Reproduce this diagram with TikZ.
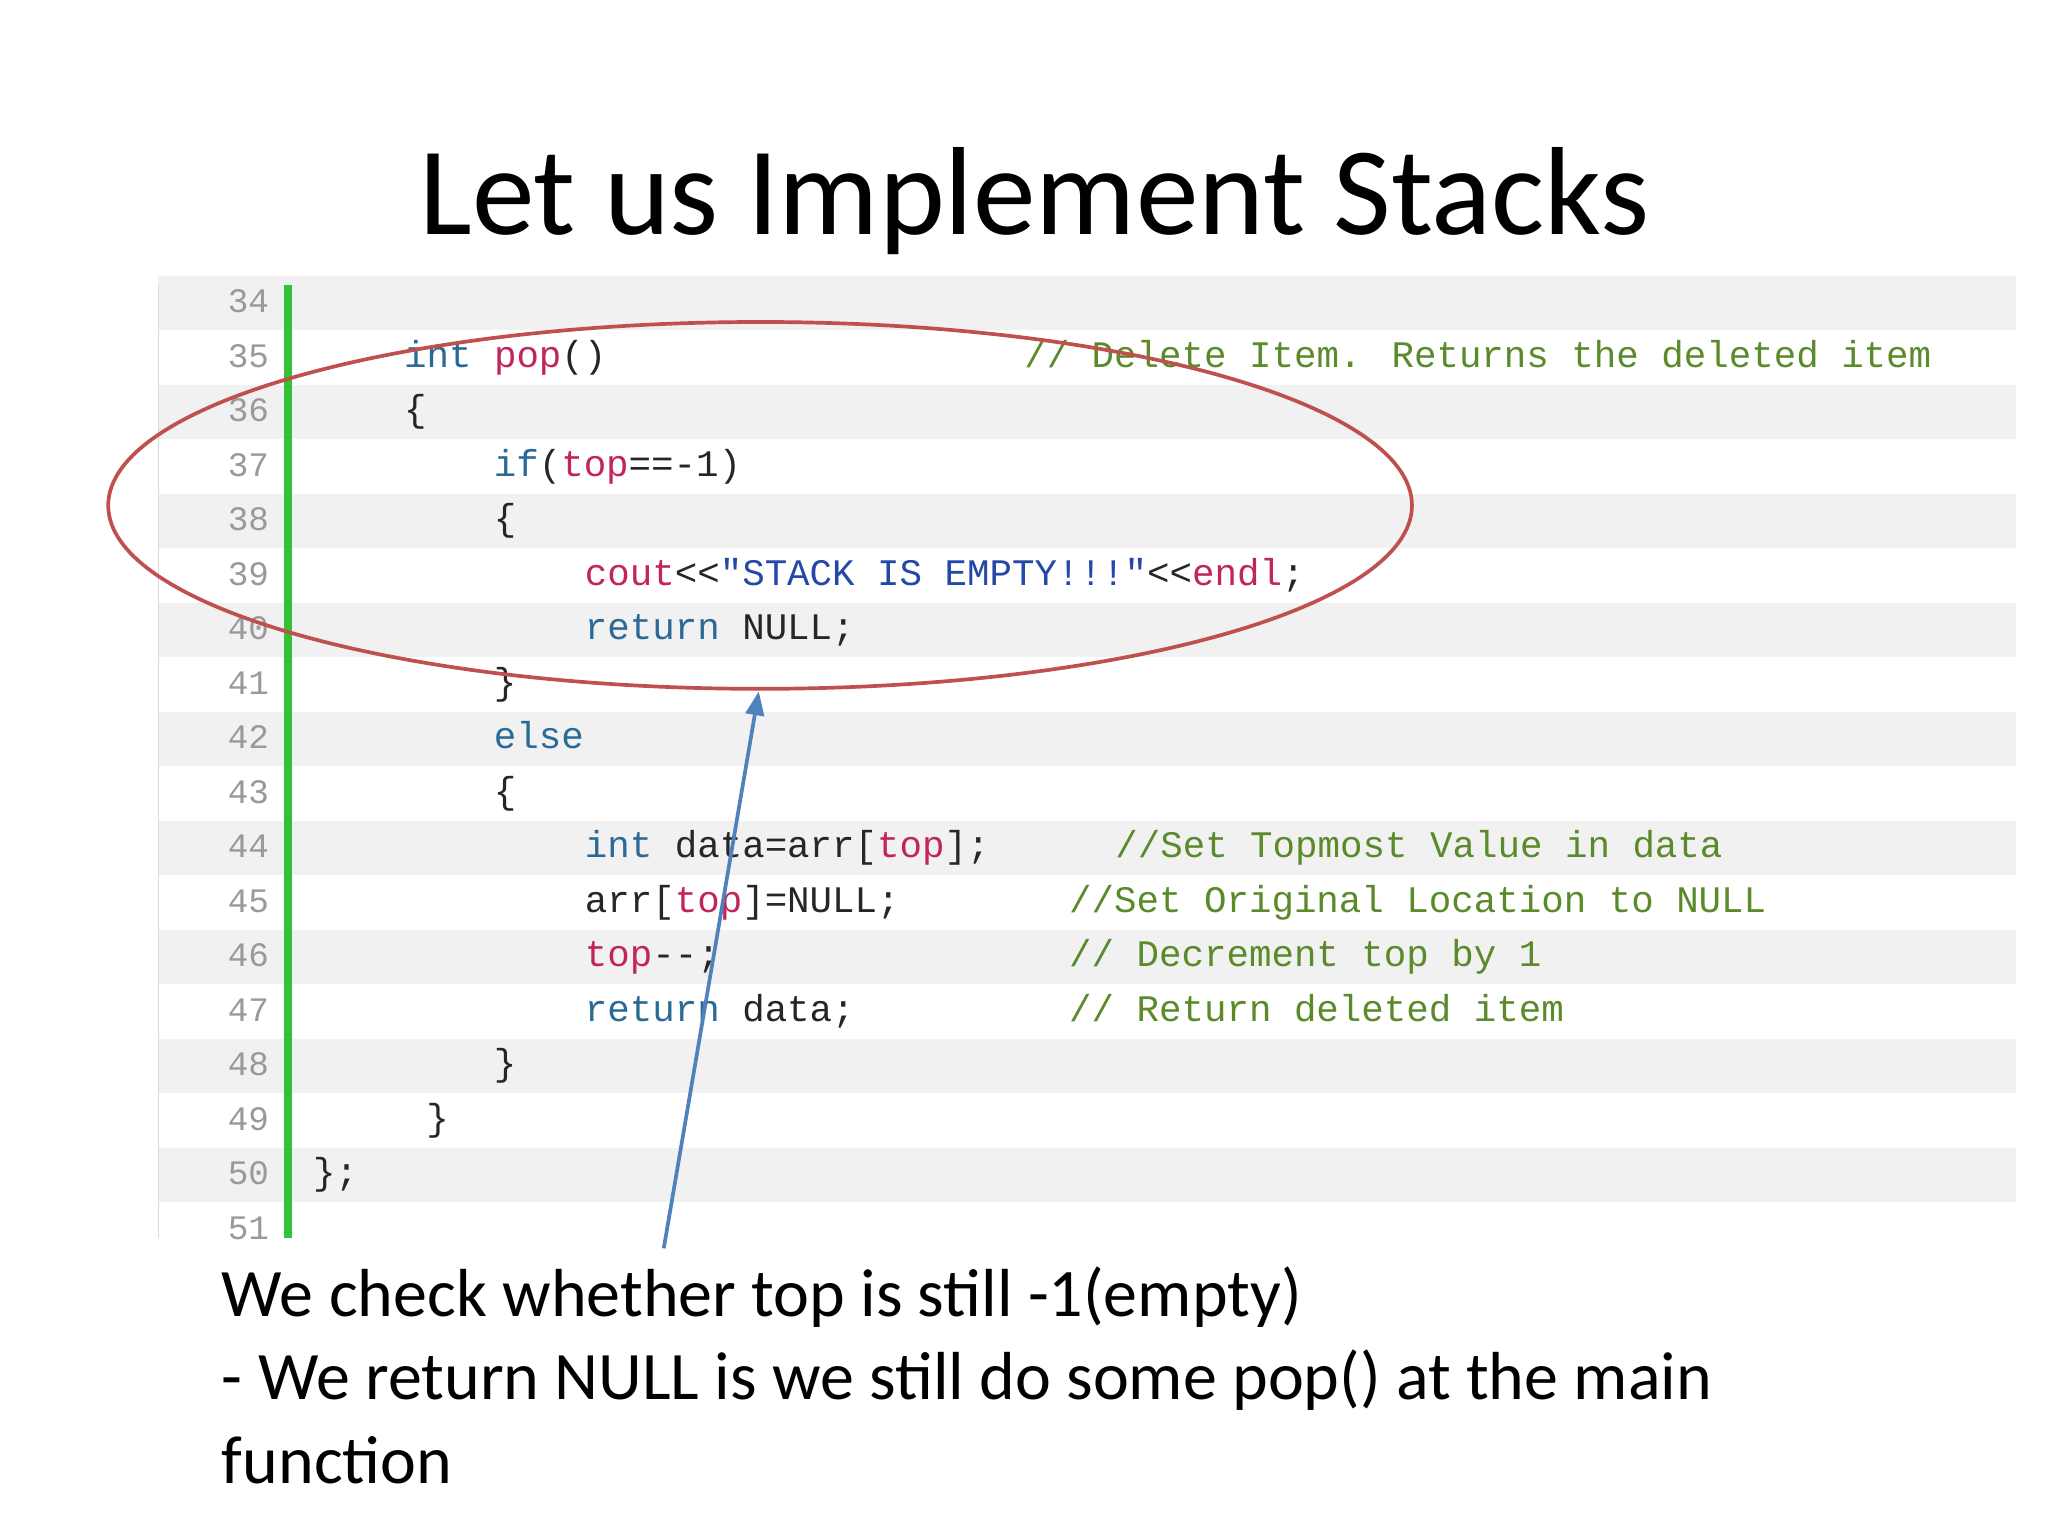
\documentclass[tikz,border=0pt]{standalone}
\usepackage{fontspec}
\setmainfont{Carlito}
\newfontfamily\cf{Liberation Mono}
\usetikzlibrary{arrows.meta}
\definecolor{kw}{HTML}{2A6A96}
\definecolor{id}{HTML}{C2245C}
\definecolor{cm}{HTML}{5A8A2A}
\definecolor{st}{HTML}{2448A8}
\definecolor{stripe}{HTML}{F1F1F1}
\definecolor{ell}{HTML}{C0504D}
\definecolor{arr}{HTML}{4F81BD}
\tikzset{code/.style={anchor=base west,inner sep=0pt,font=\cf\fontsize{28.4}{30}\selectfont,text=black!85},
 lnum/.style={anchor=base east,inner sep=0pt,font=\cf\fontsize{26}{28}\selectfont,text=black!40}}
\newcommand\CL[3]{\node[code] (l#1) at (#2,{237+41.3*(#1-34)}) {#3};}
\begin{document}
\begin{tikzpicture}[x=1pt,y=-1pt]
\useasboundingbox (0,0) rectangle (1552,1164);
\fill[white] (0,0) rectangle (1552,1164);
\foreach \i in {0,2,...,16}{\fill[stripe] (120,{209+41.3*\i}) rectangle (1528,{250+41.3*\i});}
\draw[black!15] (120,216) -- (120,938);
\fill[green!70!black!80] (215,216) rectangle (221,938);
\foreach \n [count=\k from 0] in {34,...,51}{\node[lnum] (n\n) at (204,{237+41.3*\k}) {\n};}
\node[anchor=base,inner sep=0pt,font=\fontsize{95}{97}\selectfont] (title) at (784,178) {Let us Implement Stacks};
\CL{35}{306}{\textcolor{kw}{int} \textcolor{id}{pop}()}
\node[code,text=cm] (c35) at (776,278.3) {// Delete Item. Returns the deleted item};
\CL{36}{306}{\{}
\CL{37}{374}{\textcolor{kw}{if}(\textcolor{id}{top}==-1)}
\CL{38}{374}{\{}
\CL{39}{443}{\textcolor{id}{cout}<<\textcolor{st}{"STACK IS EMPTY!!!"}<<\textcolor{id}{endl};}
\CL{40}{443}{\textcolor{kw}{return} NULL;}
\CL{41}{374}{\}}
\CL{42}{374}{\textcolor{kw}{else}}
\CL{43}{374}{\{}
\CL{44}{443}{\textcolor{kw}{int} data=arr[\textcolor{id}{top}];}
\node[code,text=cm] (c44) at (845,650) {//Set Topmost Value in data};
\CL{45}{443}{arr[\textcolor{id}{top}]=NULL;}
\node[code,text=cm] (c45) at (810,691.3) {//Set Original Location to NULL};
\CL{46}{443}{\textcolor{id}{top}--;}
\node[code,text=cm] (c46) at (810,732.6) {// Decrement top by 1};
\CL{47}{443}{\textcolor{kw}{return} data;}
\node[code,text=cm] (c47) at (810,773.9) {// Return deleted item};
\CL{48}{374}{\}}
\CL{49}{323}{\}}
\CL{50}{237}{\};}
\draw[ell,line width=2.8pt] (576,383) ellipse [x radius=494,y radius=139];
\coordinate (ebot) at (575,524);
\coordinate (tail) at (503,946);
\draw[arr,line width=2.8pt,-{Triangle[length=18pt,width=14pt]}] (tail) -- (ebot);
\node[anchor=north west,align=left,inner sep=0pt,font=\fontsize{51.5}{63}\selectfont] (note) at (168,960)
 {We check whether top is still -1(empty)\\- We return NULL is we still do some pop() at the main\\function};
\end{tikzpicture}
\end{document}
